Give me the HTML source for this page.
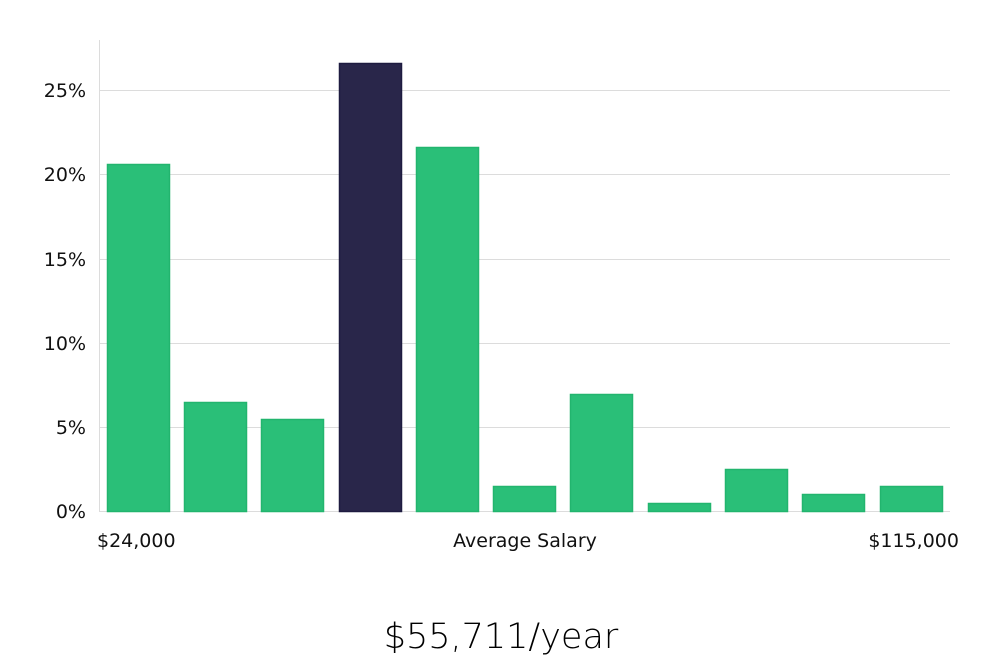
<!DOCTYPE html>
<html><head><meta charset="utf-8"><style>
body{margin:0;background:#fff;width:1000px;height:660px;overflow:hidden}
svg text{font-family:"DejaVu Sans","Liberation Sans",sans-serif;fill:#111}
</style></head><body>
<svg width="1000" height="660" viewBox="0 0 1000 660">
<g stroke="#dcdcdc" stroke-width="1">
<line x1="100" y1="90.5" x2="950" y2="90.5"/>
<line x1="100" y1="174.5" x2="950" y2="174.5"/>
<line x1="100" y1="259.5" x2="950" y2="259.5"/>
<line x1="100" y1="343.5" x2="950" y2="343.5"/>
<line x1="100" y1="427.5" x2="950" y2="427.5"/>
<line x1="100" y1="511.5" x2="950" y2="511.5"/>
<line x1="99.5" y1="40" x2="99.5" y2="512"/>
</g>
<g font-size="19" text-anchor="end">
<text x="86" y="97">25%</text>
<text x="86" y="181">20%</text>
<text x="86" y="266">15%</text>
<text x="86" y="350">10%</text>
<text x="86" y="434">5%</text>
<text x="86" y="518">0%</text>
</g>
<g fill="#2abf78" stroke="#22b56e" stroke-width="1.5">
<rect x="107.5" y="164.5" width="62" height="347"/>
<rect x="184.5" y="402.5" width="62" height="109"/>
<rect x="261.5" y="419.5" width="62" height="92"/>
<rect x="416.5" y="147.5" width="62" height="364"/>
<rect x="493.5" y="486.5" width="62" height="25"/>
<rect x="570.5" y="394.5" width="62" height="117"/>
<rect x="648.5" y="503.5" width="62" height="8"/>
<rect x="725.5" y="469.5" width="62" height="42"/>
<rect x="802.5" y="494.5" width="62" height="17"/>
<rect x="880.5" y="486.5" width="62" height="25"/>
</g>
<rect x="339.5" y="63.5" width="62" height="448" fill="#29264a" stroke="#1e1b40" stroke-width="1.5"/>
<g font-size="19">
<text x="97" y="547">$24,000</text>
<text x="525" y="547" text-anchor="middle">Average Salary</text>
<text x="959" y="547" text-anchor="end">$115,000</text>
</g>
<text x="501" y="648" font-size="35" text-anchor="middle" style="font-weight:200;fill:#000">$55,711/year</text>
</svg>
</body></html>
